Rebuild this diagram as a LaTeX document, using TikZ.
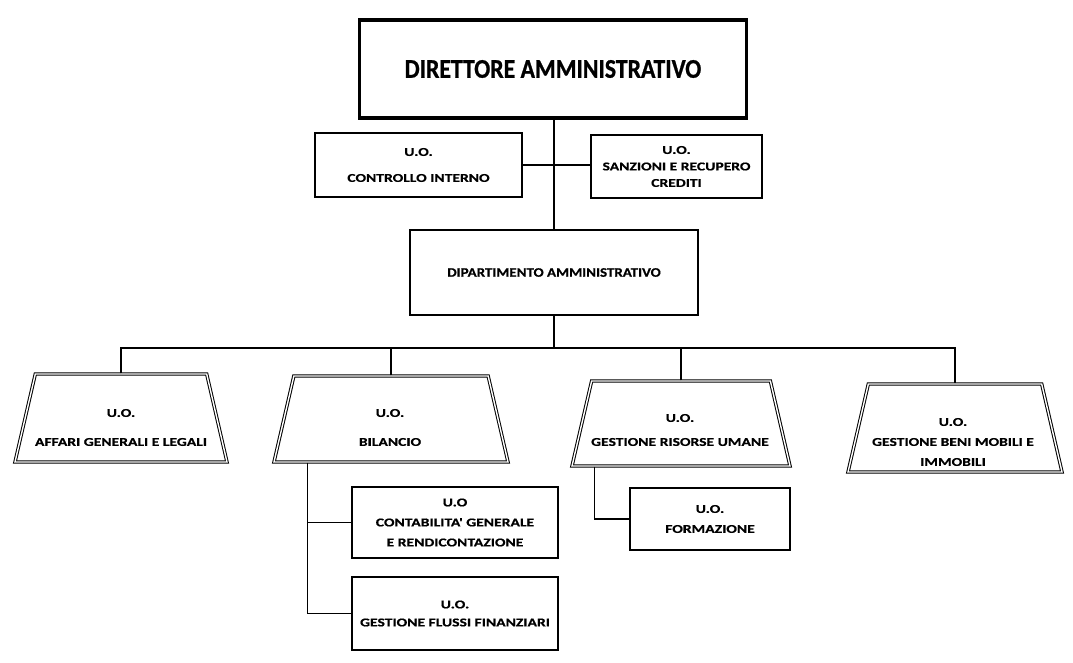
\documentclass[tikz,border=0pt]{standalone}
\usepackage{fontspec}
\setmainfont{Carlito}
\newfontfamily\uofont[FakeStretch=1.3,FakeBold=0.6]{Carlito}
\newfontfamily\dipfont[FakeStretch=1.15,FakeBold=0.6]{Carlito}
\newfontfamily\dirfont[FakeStretch=0.88,FakeBold=0.8]{Carlito}
\usetikzlibrary{shapes.geometric}
\newcommand\trapbody[1]{\phantom{\rule{1pt}{#1pt}}}
\begin{document}
\begin{tikzpicture}[x=1pt,y=-1pt,
  conn/.style={line width=1.6pt},
  box/.style={draw, line width=1.6pt, inner sep=0pt, align=center},
  uo/.style={align=center, inner sep=0pt, font=\uofont\bfseries\fontsize{12}{#1}\selectfont},
  trap/.style={draw, double, double distance=1.4pt, line width=1pt, shape=trapezium,
    trapezium left angle=77, trapezium right angle=77, trapezium stretches body=true, inner sep=0pt}]

\fill[white] (0,0) rectangle (1073,663);
\useasboundingbox (0,0) rectangle (1073,663);

% top management
\node[box, line width=3.2pt, minimum width=387, minimum height=98,
  font=\dirfont\bfseries\fontsize{27}{30}\selectfont] (dir) at (553,69) {DIRETTORE AMMINISTRATIVO};
\node[box, minimum width=207, minimum height=64, uo=26] (ci) at (418.5,165) {U.O.\\CONTROLLO INTERNO};
\node[box, minimum width=171, minimum height=63, uo=16.5] (sr) at (676.5,166.5) {U.O.\\SANZIONI E RECUPERO\\CREDITI};
\node[box, line width=2.4pt, minimum width=288, minimum height=85,
  font=\dipfont\bfseries\fontsize{13}{16}\selectfont] (dip) at (554,272.5) {DIPARTIMENTO AMMINISTRATIVO};

% operating units
\node[trap, minimum width=212] (t1) at (121,418) {\trapbody{88}};
\node[uo=29] (t1l) at (121,427.5) {U.O.\\AFFARI GENERALI E LEGALI};
\node[trap, minimum width=234] (t2) at (391,419) {\trapbody{86}};
\node[uo=29] (t2l) at (390,427.5) {U.O.\\BILANCIO};
\node[trap, minimum width=218] (t3) at (681,423.5) {\trapbody{85}};
\node[uo=24] (t3l) at (680,430) {U.O.\\GESTIONE RISORSE UMANE};
\node[trap, minimum width=214] (t4) at (955,428) {\trapbody{88}};
\node[uo=20] (t4l) at (953,442) {U.O.\\GESTIONE BENI MOBILI E\\IMMOBILI};

% sub-units
\node[box, minimum width=206, minimum height=71, uo=20] (cg) at (455,522.5) {U.O\\CONTABILITA' GENERALE\\E RENDICONTAZIONE};
\node[box, minimum width=206, minimum height=73, uo=18] (gf) at (455,613.5) {U.O.\\GESTIONE FLUSSI FINANZIARI};
\node[box, minimum width=160, minimum height=62, uo=20] (fo) at (710,519) {U.O.\\FORMAZIONE};

% connectors
\coordinate (bus) at (554,348);
\draw[conn] (dir.south -| dip.north) -- (dip.north);
\draw[conn] (ci.east) -- (ci.east -| sr.west);
\draw[conn] (dip.south) -- (dip.south |- bus);
\draw[conn] (t1.north) |- (bus) -| (t4.north);
\draw[conn] (t2.north) -- (t2.north |- bus);
\draw[conn] (t3.north) -- (t3.north |- bus);

\coordinate (bj) at ([xshift=34pt]t2.bottom left corner);
\draw[conn] (bj) |- (gf.west);
\draw[conn] (bj |- cg.west) -- (cg.west);
\coordinate (rj) at ([xshift=23pt]t3.bottom left corner);
\draw[conn] (rj) |- (fo.west);
\end{tikzpicture}
\end{document}
